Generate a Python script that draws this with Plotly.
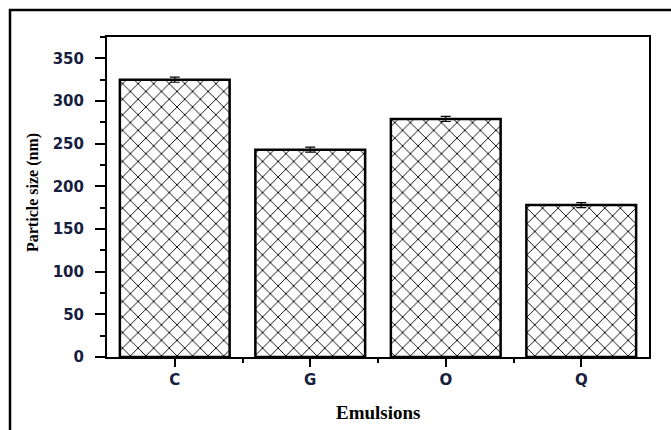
import plotly.graph_objects as go

# Emulsion particle sizes (nm) with standard deviations
emulsions = ["C", "G", "O", "Q"]
particle_size = [325, 243, 279, 178]
size_error = [3, 3, 3, 3]
y_ticks = [0, 50, 100, 150, 200, 250, 300, 350]

W, H = 671, 430
M_L, M_R, M_T, M_B = 107, 22, 37, 73
PW = W - M_L - M_R
PH = H - M_T - M_B


def px_to_paper_x(px):
    return (px - M_L) / PW


def px_to_paper_y(py):
    return (H - M_B - py) / PH


xpos = list(range(len(emulsions)))

fig = go.Figure()
fig.add_trace(go.Bar(
    x=xpos,
    y=particle_size,
    width=0.81,
    marker=dict(
        color="white",
        line=dict(color="black", width=2.5),
        pattern=dict(shape="x", fgcolor="black", bgcolor="white",
                     size=11, solidity=0.16, fillmode="replace"),
    ),
    error_y=dict(type="data", array=size_error, color="black",
                 thickness=1.2, width=5),
    showlegend=False,
))

tick_font = dict(family="DejaVu Sans", size=15, color="#16203e", weight="bold")

fig.update_xaxes(
    range=[-0.5, len(emulsions) - 0.5],
    tickvals=xpos,
    ticktext=emulsions,
    ticks="outside", ticklen=8, tickwidth=2, tickcolor="black",
    minor=dict(tickvals=[0.5, 1.5, 2.5], ticks="outside", ticklen=4,
               tickwidth=1.5, tickcolor="black"),
    showline=True, linecolor="black", linewidth=2, mirror=True,
    showgrid=False, zeroline=False,
    tickfont=tick_font,
)
fig.update_yaxes(
    range=[0, 375],
    tickvals=y_ticks,
    ticks="outside", ticklen=10, tickwidth=2, tickcolor="black",
    minor=dict(dtick=25, tick0=0, ticks="outside", ticklen=5,
               tickwidth=1.5, tickcolor="black"),
    showline=True, linecolor="black", linewidth=2, mirror=True,
    showgrid=False, zeroline=False,
    tickfont=tick_font,
    ticklabelstandoff=8,
)

# Outer frame around the figure: top and left edges
frame = dict(color="black", width=2.5)
fig.add_shape(type="line", xref="paper", yref="paper",
              x0=px_to_paper_x(9), x1=px_to_paper_x(W),
              y0=px_to_paper_y(10), y1=px_to_paper_y(10), line=frame)
fig.add_shape(type="line", xref="paper", yref="paper",
              x0=px_to_paper_x(10), x1=px_to_paper_x(10),
              y0=px_to_paper_y(9), y1=px_to_paper_y(H), line=frame)

title_font = dict(family="Liberation Serif", size=16, color="black", weight="bold")
fig.add_annotation(text="Particle size (nm)", xref="paper", yref="paper",
                   x=px_to_paper_x(33), y=px_to_paper_y(193),
                   textangle=-90, showarrow=False, font=title_font,
                   xanchor="center", yanchor="middle")
fig.add_annotation(text="Emulsions", xref="paper", yref="paper",
                   x=px_to_paper_x(378), y=px_to_paper_y(412),
                   showarrow=False,
                   font=dict(family="Liberation Serif", size=19, color="black",
                             weight="bold"),
                   xanchor="center", yanchor="middle")

fig.update_layout(
    width=W, height=H,
    margin=dict(l=M_L, r=M_R, t=M_T, b=M_B),
    paper_bgcolor="white", plot_bgcolor="white",
)

fig.write_html("out.html")
